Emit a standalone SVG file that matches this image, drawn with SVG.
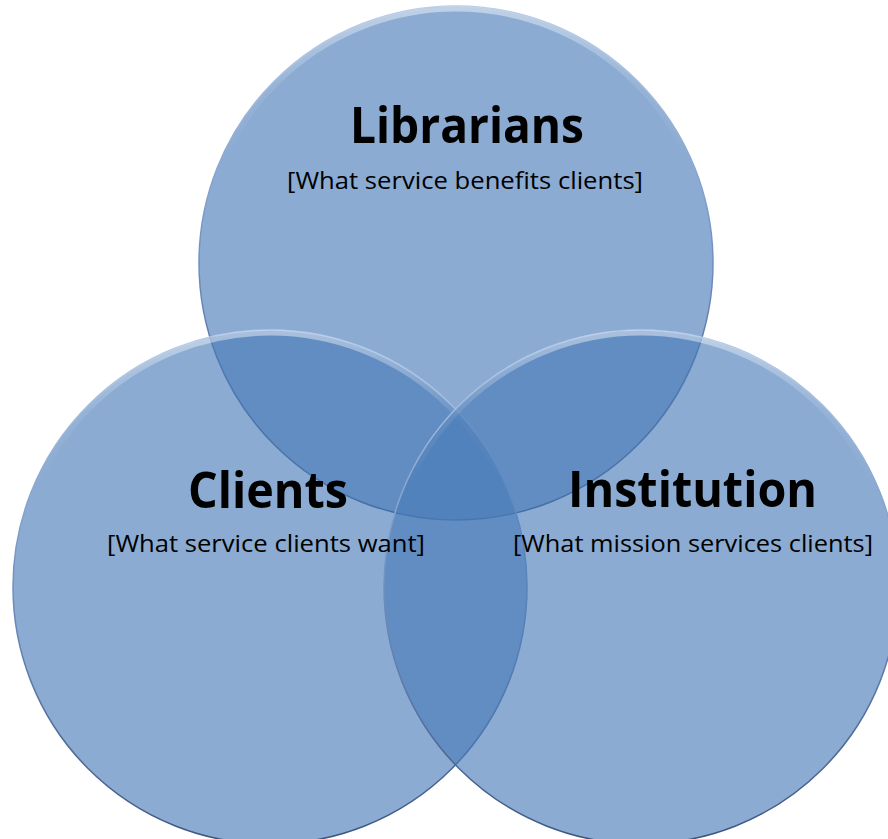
<svg xmlns="http://www.w3.org/2000/svg" width="888" height="839" viewBox="0 0 888 839">
  <defs>
    <linearGradient id="edge" x1="0" y1="0" x2="0" y2="1">
      <stop offset="0" stop-color="#b9cdea"/>
      <stop offset="0.5" stop-color="#6f8fbf"/>
      <stop offset="1" stop-color="#3d5680"/>
    </linearGradient>
    <linearGradient id="gloss" x1="0" y1="0" x2="0" y2="1">
      <stop offset="0" stop-color="#ffffff" stop-opacity="0.45"/>
      <stop offset="0.15" stop-color="#ffffff" stop-opacity="0.1"/>
      <stop offset="0.3" stop-color="#ffffff" stop-opacity="0"/>
    </linearGradient>
    <style>
      .disc { fill: #4a7bb8; fill-opacity: 0.64; stroke: url(#edge); stroke-width: 1.5; }
      .shine { fill: none; stroke: url(#gloss); stroke-width: 5; }
      .title { font-family: "Open Sans", "Liberation Sans", sans-serif; font-weight: bold; font-size: 51px; fill: #000; text-anchor: middle; }
      .sub { font-family: "Open Sans", "Liberation Sans", sans-serif; font-size: 24px; fill: #000; text-anchor: middle; }
    </style>
  </defs>
  <rect width="888" height="839" fill="#ffffff"/>
  <g id="librarians">
    <circle class="disc" cx="456" cy="263" r="257"/>
    <circle class="shine" cx="456" cy="263" r="254"/>
    <text class="title" x="467" y="143" textLength="234" lengthAdjust="spacingAndGlyphs">Librarians</text>
    <text class="sub" x="465" y="189" textLength="356" lengthAdjust="spacingAndGlyphs">[What service benefits clients]</text>
  </g>
  <g id="clients">
    <circle class="disc" cx="270" cy="587" r="257"/>
    <circle class="shine" cx="270" cy="587" r="254"/>
  </g>
  <g id="institution">
    <circle class="disc" cx="641" cy="587" r="257"/>
    <circle class="shine" cx="641" cy="587" r="254"/>
  </g>
  <g id="labels">
    <text class="title" x="268" y="508" textLength="160" lengthAdjust="spacingAndGlyphs">Clients</text>
    <text class="sub" x="266" y="552" textLength="318" lengthAdjust="spacingAndGlyphs">[What service clients want]</text>
    <text class="title" x="692.5" y="507" textLength="249" lengthAdjust="spacingAndGlyphs">Institution</text>
    <text class="sub" x="693" y="552" textLength="360" lengthAdjust="spacingAndGlyphs">[What mission services clients]</text>
  </g>
  <g id="connectors"/>
</svg>
